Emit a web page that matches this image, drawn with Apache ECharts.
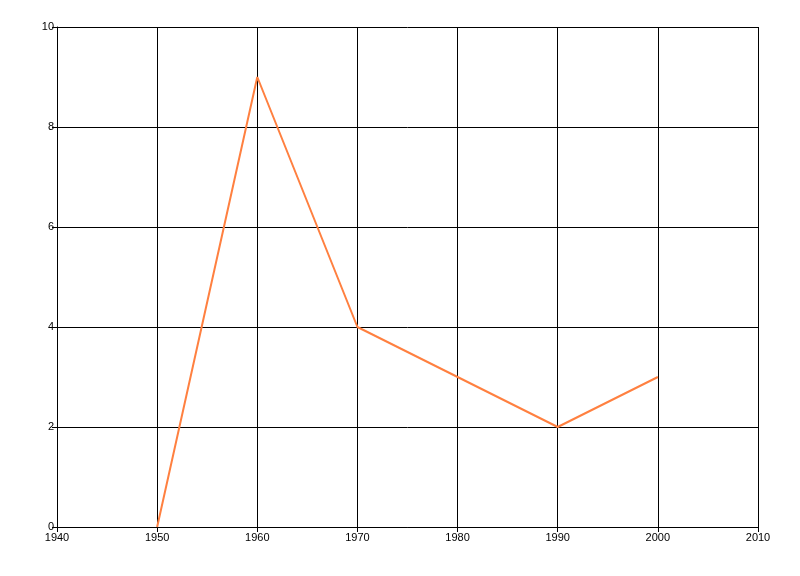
<!DOCTYPE html>
<html>
<head>
<meta charset="utf-8">
<script src="https://cdn.jsdelivr.net/npm/echarts@6/dist/echarts.min.js"></script>
<style>html,body{margin:0;padding:0;background:#fff;}#c{width:800px;height:576px;}</style>
</head>
<body>
<div id="c"></div>
<script>
const years = [1950, 1960, 1970, 1980, 1990, 2000];
const values = [0, 9, 4, 3, 2, 3];

const chart = echarts.init(document.getElementById('c'));
const labelBase = { color: '#000', fontSize: 11, fontFamily: 'Liberation Sans, Arial, sans-serif', formatter: v => String(v) };
const axisCommon = {
  axisLine: { show: true, lineStyle: { color: '#000', width: 1 } },
  axisTick: { show: true, length: 5, lineStyle: { color: '#000' } },
  splitLine: { show: true, lineStyle: { color: '#000', width: 1 } }
};
chart.setOption({
  animation: false,
  backgroundColor: '#fff',
  grid: { left: 57, right: 42, top: 27, bottom: 49, containLabel: false },
  xAxis: Object.assign({ type: 'value', min: 1940, max: 2010, interval: 10 }, axisCommon,
    { axisLabel: Object.assign({}, labelBase, { margin: 5 }) }),
  yAxis: Object.assign({ type: 'value', min: 0, max: 10, interval: 2 }, axisCommon,
    { axisLabel: Object.assign({}, labelBase, { margin: 3 }) }),
  series: [{
    type: 'line',
    data: years.map((y, i) => [y, values[i]]),
    showSymbol: false,
    symbol: 'none',
    lineStyle: { color: '#ff8040', width: 2 },
    itemStyle: { color: '#ff8040' }
  }]
});
</script>
</body>
</html>
